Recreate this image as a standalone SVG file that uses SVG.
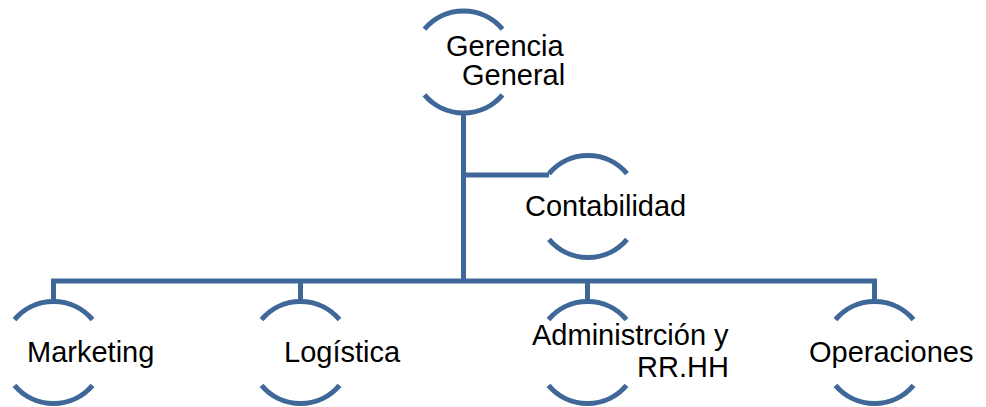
<svg xmlns="http://www.w3.org/2000/svg" width="986" height="407" viewBox="0 0 986 407">
<style>
.ln{fill:none;stroke:#3F6899;stroke-width:5}
.arc{fill:none;stroke:#3F6899;stroke-width:5}
.t{font-family:"Liberation Sans",Arial,sans-serif;font-size:29px;fill:#000}
</style>
<rect width="986" height="407" fill="#fff"/>
<g id="connectors">
<path class="ln" d="M463.5,113 V281"/>
<path class="ln" d="M463.5,175 H549"/>
<path class="ln" d="M53.5,301 V281 H874.5 V301"/>
<path class="ln" d="M300.5,281 V301"/>
<path class="ln" d="M587.5,281 V301"/>
</g>
<g id="gerencia">
<path class="arc" d="M424.5,29.2 A51,51 0 0 1 502.5,29.2"/>
<path class="arc" d="M424.5,94.8 A51,51 0 0 0 502.5,94.8"/>
<text class="t" x="446" y="56">Gerencia</text>
<text class="t" x="462" y="85">General</text>
</g>
<g id="contabilidad">
<path class="arc" d="M549,173.7 A51,51 0 0 1 627,173.7"/>
<path class="arc" d="M549,239.3 A51,51 0 0 0 627,239.3"/>
<text class="t" x="525" y="216">Contabilidad</text>
</g>
<g id="marketing">
<path class="arc" d="M14.5,319.7 A51,51 0 0 1 92.5,319.7"/>
<path class="arc" d="M14.5,385.3 A51,51 0 0 0 92.5,385.3"/>
<text class="t" x="27" y="362">Marketing</text>
</g>
<g id="logistica">
<path class="arc" d="M261.5,319.7 A51,51 0 0 1 339.5,319.7"/>
<path class="arc" d="M261.5,385.3 A51,51 0 0 0 339.5,385.3"/>
<text class="t" x="284" y="362">Logística</text>
</g>
<g id="administracion">
<path class="arc" d="M548.5,319.7 A51,51 0 0 1 626.5,319.7"/>
<path class="arc" d="M548.5,385.3 A51,51 0 0 0 626.5,385.3"/>
<text class="t" x="532" y="345">Administrción y</text>
<text class="t" x="637" y="377">RR.HH</text>
</g>
<g id="operaciones">
<path class="arc" d="M835.5,319.7 A51,51 0 0 1 913.5,319.7"/>
<path class="arc" d="M835.5,385.3 A51,51 0 0 0 913.5,385.3"/>
<text class="t" x="809" y="362">Operaciones</text>
</g>
</svg>
